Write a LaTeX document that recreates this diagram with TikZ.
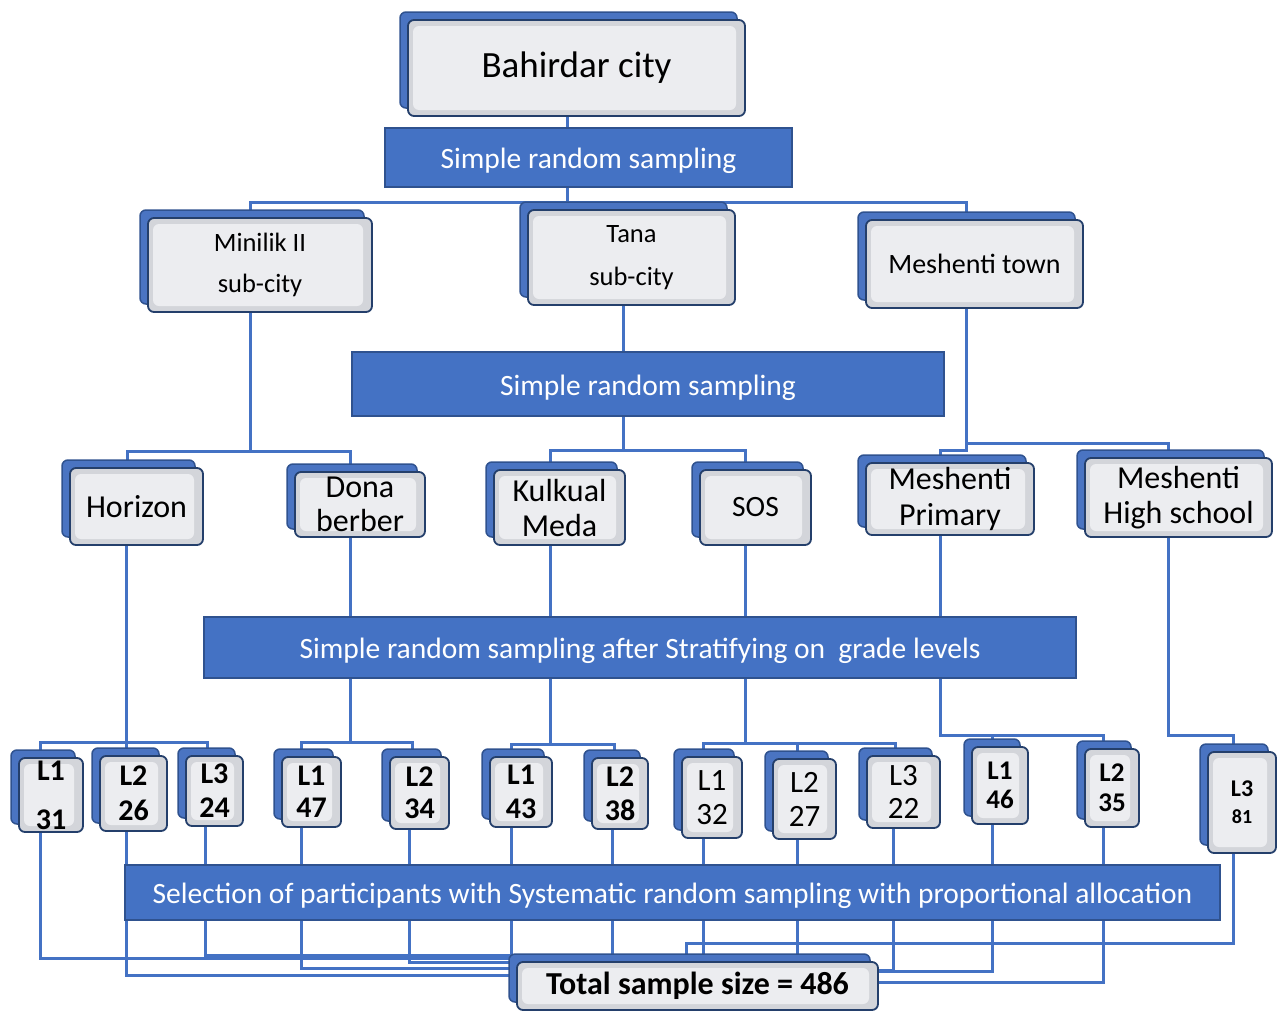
\documentclass[tikz,border=0pt]{standalone}
\usepackage{fontspec}
\setmainfont{Carlito}
\definecolor{connc}{HTML}{4472C4}
\definecolor{barblue}{HTML}{4472C4}
\definecolor{barline}{HTML}{2F528F}
\definecolor{boxline}{HTML}{243F6B}
\definecolor{shadowblue}{HTML}{4A74C2}
\definecolor{shadowline}{HTML}{2F528F}
\definecolor{boxedge}{HTML}{D3D5DA}
\definecolor{boxinner}{HTML}{ECEDF0}
\pgfdeclarelayer{bg}
\pgfsetlayers{bg,main}
\tikzset{
  box/.style={draw=boxline, line width=1.8pt, rounded corners=6pt, fill=boxedge, inner sep=0pt,
    path picture={\fill[boxinner] ([shift={(5pt,6pt)}]path picture bounding box.south west) rectangle ([shift={(-9pt,-6pt)}]path picture bounding box.north east);}},
  shadowbox/.style={draw=shadowline, fill=shadowblue, line width=1.5pt, rounded corners=6pt, inner sep=0pt},
  bar/.style={draw=barline, fill=barblue, line width=2pt, text=white, inner sep=0pt, text height=22pt, text depth=0pt, font=\fontsize{29.5}{34}\selectfont},
  conn/.style={draw=connc, line width=3pt},
  lbl/.style={align=center, inner sep=0pt, text=black},
}
\newcommand\mkbox[7]{%
  \node[shadowbox, minimum width=#4pt, minimum height=#5pt] at (#2-8,#3-8) {};
  \node[box, minimum width=#4pt, minimum height=#5pt, label={[lbl,font=#6]center:{#7}}] (#1) at (#2,#3) {};
}
\begin{document}
\begin{tikzpicture}[x=1pt,y=-1pt]
\useasboundingbox (0,0) rectangle (1282,1012);

% ---- boxes ----
\mkbox{bc}{576.5}{68}{337}{96}{\fontsize{37}{42}\selectfont}{Bahirdar city}
\node[bar, minimum width=407pt, minimum height=59pt] (bar1) at (588.5,157.5) {Simple random sampling};

\mkbox{m2}{260}{265}{224}{94}{\fontsize{26.5}{41}\selectfont}{Minilik II\\sub-city}
\mkbox{tana}{631.5}{257.5}{207}{95}{\fontsize{26.5}{43}\selectfont}{Tana\\sub-city}
\mkbox{mt}{974.5}{264}{217}{88}{\fontsize{28}{32}\selectfont}{Meshenti town}

\node[bar, minimum width=592pt, minimum height=64pt] (bar2) at (648,384) {Simple random sampling};

\mkbox{hor}{136.5}{506.5}{133}{77}{\fontsize{32}{36}\selectfont}{Horizon}
\mkbox{dona}{360}{504.5}{130}{65}{\fontsize{32}{34}\selectfont}{Dona\\berber}
\mkbox{kul}{559.5}{507.5}{131}{75}{\fontsize{32}{35}\selectfont}{Kulkual\\Meda}
\mkbox{sos}{755.5}{507.5}{111}{75}{\fontsize{29.5}{34}\selectfont}{SOS}
\mkbox{mp}{950}{499}{168}{72}{\fontsize{32}{36}\selectfont}{Meshenti\\Primary}
\mkbox{mhs}{1178.5}{497.5}{187}{79}{\fontsize{32}{35}\selectfont}{Meshenti\\High school}

\node[bar, minimum width=872pt, minimum height=61pt] (bar3) at (640,647.5) {Simple random sampling after Stratifying on\ \ grade levels};

\mkbox{l31}{51}{795}{64}{74}{\fontsize{30}{49}\selectfont\bfseries}{L1\\31}
\mkbox{l26}{133.5}{793.5}{67}{75}{\fontsize{30}{35}\selectfont\bfseries}{L2\\26}
\mkbox{l24}{214.5}{791}{57}{70}{\fontsize{30}{34}\selectfont\bfseries}{L3\\24}
\mkbox{l47}{311.5}{792}{59}{70}{\fontsize{30}{32}\selectfont\bfseries}{L1\\47}
\mkbox{l34}{419.5}{793}{59}{72}{\fontsize{30}{32}\selectfont\bfseries}{L2\\34}
\mkbox{l43}{521}{792}{62}{70}{\fontsize{30}{34}\selectfont\bfseries}{L1\\43}
\mkbox{l38}{620}{793.5}{56}{71}{\fontsize{30}{34}\selectfont\bfseries}{L2\\38}
\mkbox{l32}{712}{797.5}{60}{81}{\fontsize{31}{34}\selectfont}{L1\\32}
\mkbox{l27}{804.5}{799}{63}{80}{\fontsize{31}{34}\selectfont}{L2\\27}
\mkbox{l22}{903.5}{792}{73}{72}{\fontsize{31}{33}\selectfont}{L3\\22}
\mkbox{l46}{1000}{785.5}{56}{77}{\fontsize{27}{29}\selectfont\bfseries}{L1\\46}
\mkbox{l35}{1112}{788}{54}{78}{\fontsize{27}{30}\selectfont\bfseries}{L2\\35}
\mkbox{l81}{1242}{802.5}{68}{101}{\fontsize{24}{27}\selectfont\bfseries}{L3\\{\fontsize{20}{27}\selectfont 81}}

\node[bar, minimum width=1095pt, minimum height=55pt] (bar4) at (672.5,892.5) {Selection of participants with Systematic random sampling with proportional allocation};

\mkbox{tot}{697.5}{986}{361}{48}{\fontsize{32}{36}\selectfont\bfseries}{Total sample size = 486}

% ---- connectors ----
\begin{pgfonlayer}{bg}
\coordinate (j0) at (567,202);
\coordinate (b1) at (250,202);
\coordinate (b2) at (623,202);
\coordinate (b3) at (966,202);
\draw[conn] (j0 |- bc.south) -- (j0);
\draw[conn] (b1 |- m2.north) -- (b1) -- (b3) -- (b3 |- mt.north);
\draw[conn] (b2) -- (b2 |- tana.north);

\coordinate (c1) at (250,451);
\coordinate (c1a) at (127,451);
\coordinate (c1b) at (350,451);
\draw[conn] (c1 |- m2.south) -- (c1);
\draw[conn] (c1a |- hor.north) -- (c1a) -- (c1b) -- (c1b |- dona.north);
\coordinate (c2) at (623,450);
\coordinate (c2a) at (550,450);
\coordinate (c2b) at (745,450);
\draw[conn] (c2 |- tana.south) -- (c2);
\draw[conn] (c2a |- kul.north) -- (c2a) -- (c2b) -- (c2b |- sos.north);
\coordinate (c3) at (966,443);
\coordinate (c3a) at (940,450);
\coordinate (c3b) at (1168,443);
\draw[conn] (c3 |- mt.south) -- (c3) -- (c3b) -- (c3b |- mhs.north);
\draw[conn] (c3) |- (c3a) -- (c3a |- mp.north);

\coordinate (d1) at (126,742);
\coordinate (d1a) at (40,742);
\coordinate (d1b) at (207,742);
\draw[conn] (d1 |- hor.south) -- (d1 |- l26.north);
\draw[conn] (d1a |- l31.north) -- (d1a) -- (d1b) -- (d1b |- l24.north);
\coordinate (d2) at (350,742);
\coordinate (d2a) at (301,742);
\coordinate (d2b) at (412,742);
\draw[conn] (d2 |- dona.south) -- (d2);
\draw[conn] (d2a |- l47.north) -- (d2a) -- (d2b) -- (d2b |- l34.north);
\coordinate (d3) at (550,744);
\coordinate (d3a) at (511,744);
\coordinate (d3b) at (614,744);
\draw[conn] (d3 |- kul.south) -- (d3);
\draw[conn] (d3a |- l43.north) -- (d3a) -- (d3b) -- (d3b |- l38.north);
\coordinate (d4) at (745,743);
\coordinate (d4a) at (703,743);
\coordinate (d4m) at (797,743);
\coordinate (d4b) at (895,743);
\draw[conn] (d4 |- sos.south) -- (d4);
\draw[conn] (d4a |- l32.north) -- (d4a) -- (d4b) -- (d4b |- l22.north);
\draw[conn] (d4m) -- (d4m |- l27.north);
\coordinate (d5) at (940,735);
\coordinate (d5a) at (992,735);
\coordinate (d5b) at (1103,735);
\draw[conn] (d5 |- mp.south) -- (d5) -- (d5b) -- (d5b |- l35.north);
\draw[conn] (d5a) -- (d5a |- l46.north);
\coordinate (d6) at (1168,735);
\coordinate (d6b) at (1233,735);
\draw[conn] (d6 |- mhs.south) -- (d6) -- (d6b) -- (d6b |- l81.north);

\coordinate (e1) at (40,958);
\coordinate (e2) at (126,975);
\coordinate (e3) at (205,955);
\coordinate (e4) at (301,968);
\coordinate (e5) at (409,962);
\draw[conn] (e1 |- l31.south) -- (e1) -- (e1 -| tot.west);
\draw[conn] (e2 |- l26.south) -- (e2) -- (e2 -| tot.west);
\draw[conn] (e3 |- l24.south) -- (e3) -- (e3 -| tot.west);
\draw[conn] (e4 |- l47.south) -- (e4) -- (e4 -| tot.west);
\draw[conn] (e5 |- l34.south) -- (e5) -- (e5 -| tot.west);
\coordinate (e6) at (511,960);
\coordinate (e7) at (612,960);
\draw[conn] (e6 |- l43.south) -- (e6);
\draw[conn] (e7 |- l38.south) -- (e7);
\coordinate (e8) at (703,943);
\coordinate (e9) at (797,943);
\draw[conn] (e8 |- l32.south) -- (e8 |- tot.north);
\draw[conn] (e9 |- l27.south) -- (e9 |- tot.north);
\coordinate (e10) at (1233,943);
\coordinate (e10a) at (686,943);
\draw[conn] (e10 |- l81.south) -- (e10) -- (e10a) -- (e10a |- tot.north);
\coordinate (e11) at (893,970);
\coordinate (e12) at (992,971);
\coordinate (e13) at (1103,982);
\draw[conn] (e11 |- l22.south) -- (e11) -- (e11 -| tot.east);
\draw[conn] (e12 |- l46.south) -- (e12) -- (e12 -| tot.east);
\draw[conn] (e13 |- l35.south) -- (e13) -- (e13 -| tot.east);
\end{pgfonlayer}
\end{tikzpicture}
\end{document}
